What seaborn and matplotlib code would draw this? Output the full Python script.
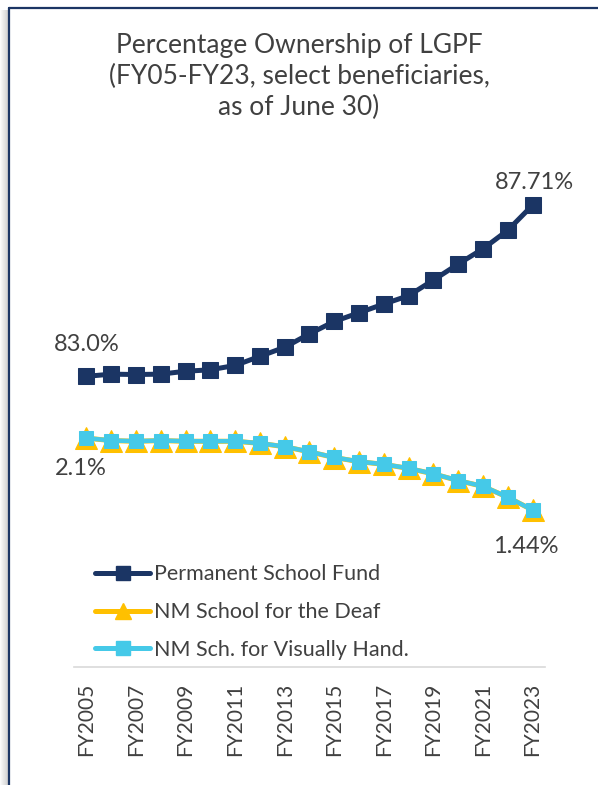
import matplotlib.pyplot as plt
import seaborn as sns
from matplotlib.patches import Rectangle
from matplotlib.lines import Line2D

# fiscal years (as of June 30)
years = ['FY%d' % y for y in range(2005, 2024)]

# Permanent School Fund share of LGPF (%)
psf = [83.00, 83.06, 83.05, 83.06, 83.14, 83.18, 83.30, 83.55, 83.80, 84.17,
       84.51, 84.75, 84.99, 85.22, 85.65, 86.09, 86.51, 87.02, 87.71]

# NM School for the Deaf share (%)
deaf = [2.10, 2.077, 2.071, 2.077, 2.071, 2.071, 2.071, 2.052, 2.021, 1.974,
        1.922, 1.884, 1.859, 1.822, 1.772, 1.710, 1.657, 1.557, 1.44]

# NM School for the Visually Handicapped share (%)
visual = [2.10, 2.078, 2.072, 2.078, 2.072, 2.072, 2.072, 2.053, 2.022, 1.975,
          1.923, 1.885, 1.860, 1.823, 1.773, 1.711, 1.658, 1.558, 1.44]

navy = '#1B3564'
gold = '#FFC000'
cyan = '#45C9E8'
text_grey = '#404040'

sns.set_style('white')
plt.rcParams['font.family'] = ['Lato', 'DejaVu Sans']

fig = plt.figure(figsize=(5.98, 7.85), dpi=100)
ax = fig.add_axes([0.1237, 0.1503, 0.7876, 0.6943])
ax2 = ax.twinx()

sns.lineplot(x=years, y=psf, ax=ax, color=navy, lw=3.6, marker='s',
             markersize=11, markeredgecolor=navy, sort=False)
sns.lineplot(x=years, y=deaf, ax=ax2, color=gold, lw=3.6, marker='^',
             markersize=15.5, markeredgecolor=gold, sort=False)
sns.lineplot(x=years, y=visual, ax=ax2, color=cyan, lw=3.2, marker='s',
             markersize=10.5, markeredgecolor=cyan, sort=False)

ax.set_ylim(75, 90)
ax2.set_ylim(0, 5)
ax.set_xlim(-0.5, len(years) - 0.5)

# data labels at the ends
lbl = dict(textcoords='offset points', ha='center', va='center', fontsize=17, color=text_grey)
ax.annotate('83.0%', (years[0], psf[0]), xytext=(0, 23), **lbl)
ax.annotate('87.71%', (years[-1], psf[-1]), xytext=(1, 16), **lbl)
ax2.annotate('2.1%', (years[0], deaf[0]), xytext=(-4, -22), **lbl)
ax2.annotate('1.44%', (years[-1], deaf[-1]), xytext=(-5, -26), **lbl)

# axes cosmetics
for a in (ax, ax2):
    for s in ('top', 'right', 'left'):
        a.spines[s].set_visible(False)
    a.set_yticks([])
    a.set_ylabel('')
ax.spines['bottom'].set_color('#D9D9D9')
ax.spines['bottom'].set_linewidth(1.2)
ax2.spines['bottom'].set_visible(False)
ax.set_xticks(years[::2])
ax.set_xticklabels(years[::2], rotation=90, fontsize=15, color=text_grey)
ax.tick_params(axis='x', length=0, pad=11)

fig.text(0.5, 0.958, 'Percentage Ownership of LGPF\n(FY05-FY23, select beneficiaries,\nas of June 30)',
         ha='center', va='top', fontsize=19, color=text_grey, linespacing=1.3)

handles = [
    Line2D([], [], color=navy, lw=3.6, marker='s', markersize=10),
    Line2D([], [], color=gold, lw=3.6, marker='^', markersize=11),
    Line2D([], [], color=cyan, lw=3.6, marker='s', markersize=10),
]
labels = ['Permanent School Fund', 'NM School for the Deaf', 'NM Sch. for Visually Hand.']
leg = ax.legend(handles, labels, loc='upper left', bbox_to_anchor=(0.159, 0.281),
                bbox_transform=fig.transFigure, frameon=False, fontsize=15.5,
                handlelength=2.55, handletextpad=0.2, labelspacing=0.82,
                borderpad=0, borderaxespad=0)
for t in leg.get_texts():
    t.set_color(text_grey)

# frame: navy border on left and top with a soft shadow to the left
for i in range(8):
    fig.patches.append(Rectangle((i / 598, 0), 1 / 598, 1 - 10 / 785,
                                 transform=fig.transFigure, color='#808080',
                                 alpha=0.04 + 0.045 * i, lw=0, zorder=0))
fig.add_artist(Line2D([9 / 598, 9 / 598], [0, 1 - 8 / 785], transform=fig.transFigure,
                      color=navy, lw=1.6))
fig.add_artist(Line2D([9 / 598, 1], [1 - 8 / 785, 1 - 8 / 785], transform=fig.transFigure,
                      color=navy, lw=1.6))

fig.savefig('out.png', dpi=100)
